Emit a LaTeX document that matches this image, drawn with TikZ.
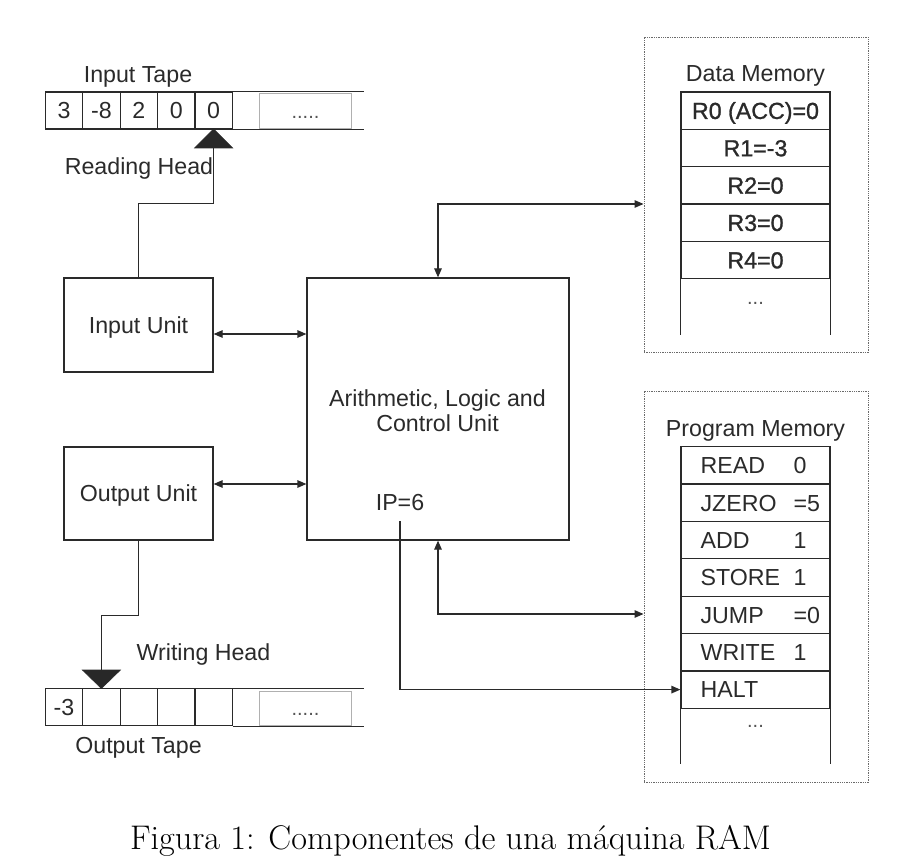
\documentclass[tikz,border=0pt]{standalone}
\usepackage{fontspec}
\newfontfamily\arial{Liberation Sans}
\newfontfamily\arialsb[FakeBold=1.2]{Liberation Sans}
\usetikzlibrary{arrows.meta}
\definecolor{ink}{HTML}{2A2A2A}
\definecolor{lgray}{HTML}{B0B0B0}
\begin{document}
\begin{tikzpicture}[x=1pt,y=-1pt,
  ln/.style={draw=ink, line width=1.2pt},
  arr/.style={ln, arrows={-Triangle[length=9pt,width=7.5pt]}},
  darr/.style={ln, arrows={Triangle[length=9pt,width=7.5pt]-Triangle[length=9pt,width=7.5pt]}},
  lbl/.style={font=\arial\fontsize{23.2}{25.5}\selectfont, text=ink, inner sep=0pt, text height=16.5pt, text depth=0pt},
  dots/.style={font=\arial\fontsize{20}{24}\selectfont, text=ink!80, inner sep=0pt},
  unitbox/.style={ln, lbl, minimum width=149pt, minimum height=94pt},
  tcell/.style={ln, lbl, minimum width=37.4pt, minimum height=37pt},
  mcell/.style={ln, lbl, minimum width=149pt, minimum height=37.35pt},
  dcell/.style={mcell, font=\arialsb\fontsize{23.2}{25.5}\selectfont},
  gbox/.style={draw=lgray, line width=1pt, inner sep=0pt, minimum width=92pt, minimum height=34.5pt},
  frame/.style={draw=ink!70, line width=0.9pt, dash pattern=on 1.3pt off 1pt, minimum width=224pt, inner sep=0pt},
  headtri/.style={fill=ink!95!black, draw=ink, line width=0.6pt}
]
\useasboundingbox (0,0) rectangle (907,866);

% ---------- Input tape ----------
\node[lbl] (intapelbl) at (138,74) {Input Tape};
\node[tcell] (i1) at (64,110.5) {3};
\node[tcell] (i2) at (101.4,110.5) {-8};
\node[tcell] (i3) at (138.8,110.5) {2};
\node[tcell] (i4) at (176.2,110.5) {0};
\node[tcell] (i5) at (213.6,110.5) {0};
\draw[ln] (i5.north east) -- ++(131,0);
\draw[ln] (i5.south east) -- ++(131,0);
\node[gbox] (igap) at (305.5,111.2) {};
\node[dots] (idots) at (305.5,117) {.....};
% reading head
\coordinate (rhead) at (213.6,148);
\draw[headtri] (213.6,129) -- (194.6,148) -- (232.6,148) -- cycle;
\node[lbl] (rheadlbl) at (139,166.5) {Reading Head};

% ---------- Units ----------
\node[unitbox] (inunit) at (138.5,325) {Input Unit};
\node[unitbox, minimum height=93pt] (outunit) at (138.5,493.5) {Output Unit};
\node[ln, minimum width=262pt, minimum height=262pt] (alu) at (438,409) {};
\node[font=\arial\fontsize{23.2}{25.5}\selectfont, text=ink, inner sep=0pt, align=center] (alutxt) at (437.5,410.5)
  {Arithmetic, Logic and\\Control Unit};
\node[lbl] (ip) at (400,502) {IP=6};

% ---------- Data memory ----------
\node[frame, minimum height=315pt] (dmem) at (756,194.5) {};
\node[lbl] (dmemlbl) at (755.5,73.5) {Data Memory};
\node[dcell] (r0) at (755.5,110.7) {R0 (ACC)=0};
\node[dcell] (r1) at (755.5,148.0) {R1=-3};
\node[dcell] (r2) at (755.5,185.4) {R2=0};
\node[dcell] (r3) at (755.5,222.7) {R3=0};
\node[dcell] (r4) at (755.5,260.1) {R4=0};
\draw[ln] (r4.south west) -- ++(0,55.5);
\draw[ln] (r4.south east) -- ++(0,55.5);
\node[dots] (rdots) at (755.5,303) {...};

% ---------- Program memory ----------
\node[frame, minimum height=391pt] (pmem) at (756,586.5) {};
\node[lbl] (pmemlbl) at (755.5,428.5) {Program Memory};
\node[mcell] (p1) at (755.5,465.4) {};
\node[mcell] (p2) at (755.5,502.75) {};
\node[mcell] (p3) at (755.5,540.1) {};
\node[mcell] (p4) at (755.5,577.5) {};
\node[mcell] (p5) at (755.5,614.85) {};
\node[mcell] (p6) at (755.5,652.2) {};
\node[mcell] (p7) at (755.5,689.6) {};
\draw[ln] (p7.south west) -- ++(0,55);
\draw[ln] (p7.south east) -- ++(0,55);
\node[dots] (pdots) at (755.5,726) {...};
\foreach \n/\op/\arg in {p1/READ/0, p2/JZERO/=5, p3/ADD/1, p4/STORE/1, p5/JUMP/=0, p6/WRITE/1, p7/HALT/{}}{
  \node[lbl, anchor=west] (\n op) at ([xshift=20pt]\n.west) {\op};
  \node[lbl, anchor=west] (\n arg) at ([xshift=113pt]\n.west) {\arg};
}

% ---------- Output tape ----------
\node[lbl] (wheadlbl) at (203.5,652) {Writing Head};
\node[tcell] (o1) at (64,707.2) {-3};
\node[tcell] (o2) at (101.4,707.2) {};
\node[tcell] (o3) at (138.8,707.2) {};
\node[tcell] (o4) at (176.2,707.2) {};
\node[tcell] (o5) at (213.6,707.2) {};
\draw[ln] (o5.north east) -- ++(131,0);
\draw[ln] (o5.south east) -- ++(131,0);
\node[gbox] (ogap) at (305.5,708.5) {};
\node[dots] (odots) at (305.5,714) {.....};
\coordinate (whead) at (101.4,670);
\draw[headtri] (101.4,688.5) -- (82.4,670) -- (120.4,670) -- cycle;
\node[lbl] (outtapelbl) at (138.5,745) {Output Tape};

% ---------- Connectors ----------
\draw[ln] (inunit.north) -- ++(0,-74) -| (rhead);
\draw[ln] (outunit.south) -- ++(0,74.5) -| (whead);
\draw[darr] (inunit.east |- 0,334) -- (alu.west |- 0,334);
\draw[darr] (outunit.east |- 0,484) -- (alu.west |- 0,484);
\draw[darr] (dmem.west |- 0,204) -| (alu.north);
\draw[darr] (pmem.west |- 0,614) -| (alu.south);
\draw[arr] (ip.south) ++(0,11) |- (p7.west);

% ---------- Caption ----------
\node[font=\fontsize{34.2}{40}\selectfont, inner sep=0pt] (caption) at (450.5,841) {Figura 1: Componentes de una máquina RAM};
\end{tikzpicture}
\end{document}
